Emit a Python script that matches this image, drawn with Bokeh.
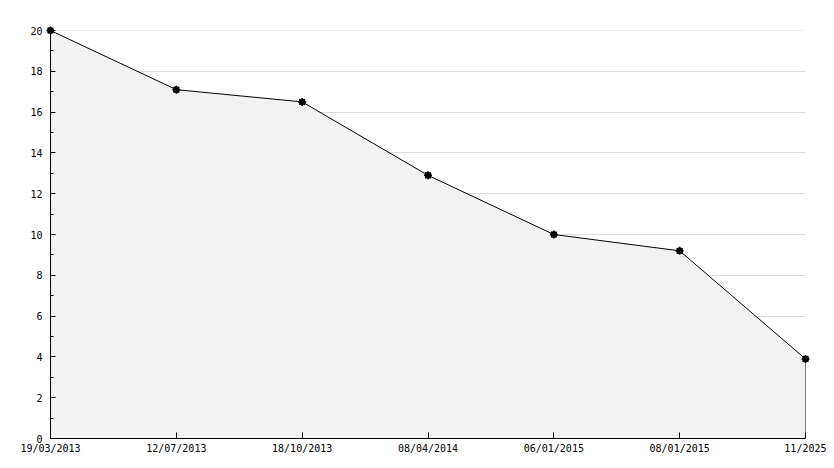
from bokeh.plotting import figure
from bokeh.models import Range1d, FixedTicker, SingleIntervalTicker, Span
from bokeh.embed import file_html
from bokeh.resources import INLINE

# Data
dates = ["19/03/2013", "12/07/2013", "18/10/2013", "08/04/2014", "06/01/2015", "08/01/2015", "11/2025"]
values = [20, 17.1, 16.5, 12.9, 10.0, 9.2, 3.9]
xs = list(range(len(dates)))

FONT = "DejaVu Sans Mono"

p = figure(width=826, height=460, output_backend="svg", toolbar_location=None,
           x_range=Range1d(0, len(dates) - 1), y_range=Range1d(0, 20),
           min_border_left=50, min_border_right=21, min_border_top=30, min_border_bottom=22)
p.outline_line_color = None
p.background_fill_color = "white"
p.border_fill_color = "white"

# top grid line (at the frame edge)
p.add_layout(Span(location=20, dimension="width", line_color="#dcdcdc", line_width=1, level="underlay"))

# area
p.varea(x=xs, y1=[0] * len(xs), y2=values, fill_color="#f2f2f2")
p.line(xs, values, line_color="black", line_width=1)
p.segment(x0=[xs[-1]], y0=[0], x1=[xs[-1]], y1=[values[-1]], line_color="black", line_width=1)
r1 = p.scatter(xs, values, marker="circle", size=6, fill_color="black", line_color="black")
r2 = p.scatter(xs, values, marker="asterisk", size=8, line_color="black", line_width=1.5)
r1.level = "overlay"
r2.level = "overlay"

# grid
p.xgrid.grid_line_color = None
p.ygrid.grid_line_color = "#dcdcdc"
p.ygrid.ticker = SingleIntervalTicker(interval=2, num_minor_ticks=2)

# x axis
p.xaxis.ticker = FixedTicker(ticks=xs)
p.xaxis.major_label_overrides = {i: d for i, d in zip(xs, dates)}
p.xaxis.major_tick_in = 6
p.xaxis.major_tick_out = 0
p.xaxis.minor_tick_line_color = None
p.xaxis.axis_line_color = "black"
p.xaxis.major_tick_line_color = "black"
p.xaxis.major_label_text_font = FONT
p.xaxis.major_label_text_font_size = "10px"
p.xaxis.major_label_text_color = "black"
p.xaxis.major_label_standoff = 4

# y axis
p.yaxis.ticker = SingleIntervalTicker(interval=2, num_minor_ticks=2)
p.yaxis.major_tick_in = 5
p.yaxis.major_tick_out = 0
p.yaxis.minor_tick_in = 3
p.yaxis.minor_tick_out = 0
p.yaxis.axis_line_color = "black"
p.yaxis.major_tick_line_color = "black"
p.yaxis.minor_tick_line_color = "black"
p.yaxis.major_label_text_font = FONT
p.yaxis.major_label_text_font_size = "10px"
p.yaxis.major_label_text_color = "black"
p.yaxis.major_label_standoff = 8

open("out.html", "w").write(file_html(p, INLINE))
